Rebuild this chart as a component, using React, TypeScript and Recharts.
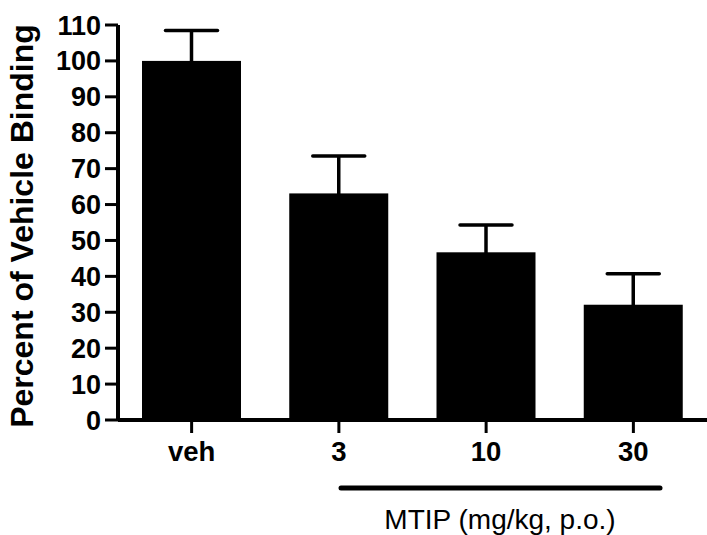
import React from 'react';
import { BarChart, Bar, XAxis, YAxis } from 'recharts';

const categories = ['veh', '3', '10', '30'];
const meanValues = [100, 63.1, 46.7, 32.1];
const semValues = [8.5, 10.4, 7.6, 8.6];
const yTicks = [0, 10, 20, 30, 40, 50, 60, 70, 80, 90, 100, 110];

const data = categories.map((c, i) => ({
  name: c,
  value: meanValues[i],
  sem: semValues[i],
}));

const FONT = '"Liberation Sans", Arial, sans-serif';

const XTick = (props: any) => {
  const { x, y, payload } = props;
  return (
    <text x={x} y={y} dy={19} textAnchor="middle" fontFamily={FONT} fontWeight={700} fontSize={27.5} fill="#000">
      {payload.value}
    </text>
  );
};

const YTick = (props: any) => {
  const { x, y, payload } = props;
  return (
    <text x={x} y={y} dy={9.5} textAnchor="end" fontFamily={FONT} fontWeight={700} fontSize={27} fill="#000">
      {payload.value}
    </text>
  );
};

const BarWithError = (props: any) => {
  const { x, y, width, height, payload } = props;
  const pxPerUnit = height / payload.value;
  const errPx = payload.sem * pxPerUnit;
  const cx = x + width / 2;
  const capTop = y - errPx;
  return (
    <g>
      <line x1={cx} y1={y + 2} x2={cx} y2={capTop} stroke="#000" strokeWidth={3.5} />
      <line x1={cx - 26} y1={capTop} x2={cx + 26} y2={capTop} stroke="#000" strokeWidth={3.5} strokeLinecap="round" />
      <rect x={x} y={y} width={width} height={height} fill="#000" />
    </g>
  );
};

export default function App() {
  return (
    <div style={{ position: 'absolute', left: 0, top: 0, width: 707, height: 535, background: '#fff' }}>
      <BarChart
        width={707}
        height={535}
        data={data}
        margin={{ top: 25, right: 0, bottom: 75, left: 0 }}
        barSize={99}
      >
        <XAxis
          dataKey="name"
          height={40}
          tick={<XTick />}
          tickSize={13}
          tickMargin={9}
          axisLine={{ stroke: '#000', strokeWidth: 4 }}
          tickLine={{ stroke: '#000', strokeWidth: 3 }}
        />
        <YAxis
          width={118}
          domain={[0, 110]}
          ticks={yTicks}
          interval={0}
          tick={<YTick />}
          tickSize={13}
          tickMargin={4}
          axisLine={{ stroke: '#000', strokeWidth: 4 }}
          tickLine={{ stroke: '#000', strokeWidth: 3 }}
        />
        <Bar dataKey="value" fill="#000" isAnimationActive={false} shape={<BarWithError />} />
      </BarChart>
      <svg
        width={707}
        height={535}
        style={{ position: 'absolute', left: 0, top: 0, pointerEvents: 'none' }}
      >
        <text
          transform="translate(33,226) rotate(-90)"
          textAnchor="middle"
          fontFamily={FONT}
          fontWeight={700}
          fontSize={32}
          fill="#000"
        >
          Percent of Vehicle Binding
        </text>
        <line x1={341} y1={488} x2={660} y2={488} stroke="#000" strokeWidth={5} strokeLinecap="round" />
        <text x={500} y={529} textAnchor="middle" fontFamily={FONT} fontSize={28} fill="#000">
          MTIP (mg/kg, p.o.)
        </text>
      </svg>
    </div>
  );
}
